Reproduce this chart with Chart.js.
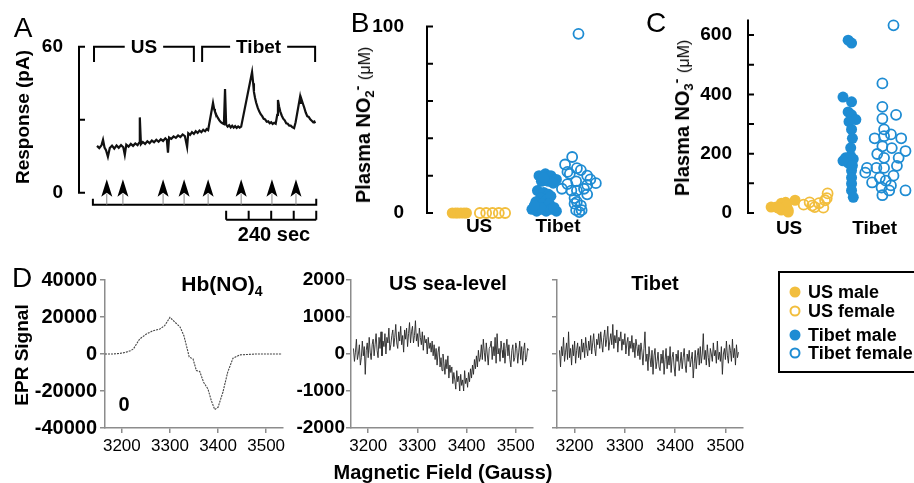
<!DOCTYPE html>
<html lang="en">
<head>
<meta charset="UTF-8">
<title>Plasma NO products, US vs Tibet</title>
<script src="https://cdn.jsdelivr.net/npm/chart.js"></script>
<style>
  body { margin: 0; background: #fff; }
  #fig { position: relative; width: 914px; height: 483px; overflow: hidden; background: #fff; }
  #fig canvas { position: absolute; }
  .c { position: absolute; transform: translate(-50%, -50%); line-height: 1; white-space: nowrap;
       font-family: "Liberation Sans", Arial, Helvetica, sans-serif; font-weight: bold; color: #000; }
  .r { transform: translate(-50%, -50%) rotate(-90deg); }
  .sm { font-weight: normal; font-size: 16px; }
  #legend { position: absolute; left: 778px; top: 271px; width: 170px; height: 98px; border: 2px solid #000; }
  .mk { position: absolute; width: 11px; height: 11px; border-radius: 50%; box-sizing: border-box; transform: translate(-50%, -50%); }
  .lt { position: absolute; transform: translateY(-50%); line-height: 1; white-space: nowrap;
        font-family: "Liberation Sans", Arial, sans-serif; font-weight: bold; font-size: 18px; }
</style>
</head>
<body>
<div id="fig">
  <canvas id="cA" width="330" height="245" style="left:0;top:0"></canvas>
  <canvas id="cB" width="290" height="248" style="left:330px;top:0"></canvas>
  <canvas id="cC" width="294" height="248" style="left:620px;top:0"></canvas>
  <canvas id="cD1" width="293" height="198" style="left:0;top:260px"></canvas>
  <canvas id="cD2" width="253" height="198" style="left:290px;top:260px"></canvas>
  <canvas id="cD3" width="208" height="198" style="left:545px;top:260px"></canvas>

  <div class="c" style="left:23px;top:28px;font-size:28px;font-weight:normal">A</div>
  <div class="c" style="left:360px;top:23px;font-size:28px;font-weight:normal">B</div>
  <div class="c" style="left:656px;top:23px;font-size:28px;font-weight:normal">C</div>
  <div class="c" style="left:22px;top:278px;font-size:28px;font-weight:normal">D</div>

  <div class="c r" style="left:22px;top:117px;font-size:19px">Response (pA)</div>
  <div class="c" style="left:274px;top:234px;font-size:20px">240 sec</div>
  <div class="c r" style="left:363px;top:125px;font-size:20px">Plasma NO<span style="font-size:13px;vertical-align:-4px">2</span><span style="font-size:14px;vertical-align:8px">-</span> <span class="sm">(μM)</span></div>
  <div class="c r" style="left:682px;top:118px;font-size:20px">Plasma NO<span style="font-size:13px;vertical-align:-4px">3</span><span style="font-size:14px;vertical-align:8px">-</span> <span class="sm">(μM)</span></div>

  <div class="c r" style="left:21px;top:355px;font-size:19px">EPR Signal</div>
  <div class="c" style="left:222px;top:285px;font-size:21px">Hb(NO)<span style="font-size:14px;vertical-align:-5px">4</span></div>
  <div class="c" style="left:448px;top:283px;font-size:20px">US sea-level</div>
  <div class="c" style="left:655px;top:283px;font-size:20px">Tibet</div>
  <div class="c" style="left:124px;top:404px;font-size:20px">0</div>
  <div class="c" style="left:443px;top:472px;font-size:20px">Magnetic Field (Gauss)</div>

  <div id="legend">
    <div class="mk" style="left:15px;top:19px;background:#F2BE3D"></div>
    <div class="lt" style="left:28px;top:19px">US male</div>
    <div class="mk" style="left:15px;top:38px;border:2px solid #F2BE3D"></div>
    <div class="lt" style="left:28px;top:38px">US female</div>
    <div class="mk" style="left:15px;top:62px;background:#1E8CD3"></div>
    <div class="lt" style="left:28px;top:62px">Tibet male</div>
    <div class="mk" style="left:15px;top:80px;border:2px solid #1E8CD3"></div>
    <div class="lt" style="left:28px;top:80px">Tibet female</div>
  </div>
</div>

<script>
// ---- data ----
// A: amperometric NO response, time (s) vs current (pA)
const respSec = [11,17,23,27,31,35,40,45,51,57,63,69,75,81,85,89,95,101,107,113,119,123,125,128,133,139,145,151,157,163,169,175,181,187,193,197,200,203,209,215,221,227,233,239,245,251,254,259,264,269,274,279,284,289,294,299,303,307,
  320,323,325,329,333,337,341,345,349,352,355,359,363,367,371,375,379,383,387,391,395,
  424,427,429,432,435,439,443,447,451,455,459,463,467,471,475,479,483,487,491,493,496,499,503,507,511,515,519,523,527,531,536,540,544,548,552,555,557,560,563,567,571,575,579,583,587,590,592];
const respPA = [19.3,18.4,19.6,21.8,18.6,17.5,14.8,18.4,19.4,18.2,19.5,18.5,19.6,18.7,15.6,19.8,19.0,20.1,19.3,20.3,19.6,20.5,31.0,20.0,20.9,20.1,21.2,20.4,21.5,20.8,21.8,21.0,22.0,21.3,22.4,21.8,16.5,22.8,22.2,23.2,22.6,23.6,22.9,24.0,23.3,18.8,24.5,23.8,24.9,24.2,25.3,24.6,25.6,24.9,25.9,25.3,26.2,25.8,
  37.0,34.5,33.5,32.0,30.8,29.8,29.0,28.6,28.3,42.7,28.0,27.2,27.8,26.9,27.6,26.8,27.4,26.7,27.3,26.8,27.2,
  49.7,45.0,41.5,39.0,37.0,35.0,33.5,32.3,31.5,30.4,30.2,29.2,29.4,28.6,29.0,28.3,28.8,28.4,32.0,38.2,35.5,33.5,31.8,30.5,29.8,28.6,28.4,27.6,27.6,27.0,26.6,29.0,32.5,36.0,39.5,37.0,37.8,36.4,35.0,33.0,31.5,31.2,30.2,29.6,29.0,29.3,28.6];
const respTicks = [0, 30, 60];
const injectionSec = [37, 80, 187, 243, 307, 395, 477, 541];
const bracketLabels = ['US', 'Tibet'];
const bracketStartSec = [3, 291];
const bracketEndSec = [269, 592];
const recordSec = [0, 595];
const scaleBarSec = [355, 415, 475, 535, 595];

// B: plasma nitrite (uM)
const groupNames = ['US', 'Tibet'];
const no2Ticks = [0,10,20,30,40,50,60,70,80,90,100];
const no2USMale = [0,0,0,0,0,0];
const no2USMaleJit = [-0.34,-0.30,-0.27,-0.23,-0.19,-0.16];
const no2USFemale = [0,0,0,0,0];
const no2USFemaleJit = [0.01,0.09,0.17,0.25,0.33];
const no2TibetMale = [20,21,20,18,17,17,16,19,12,11,10,8,7,9,6,5,5,2,1,2,1,2,1,3,4,3];
const no2TibetMaleJit = [-0.24,-0.16,-0.09,-0.02,-0.21,-0.12,-0.06,-0.18,-0.26,-0.18,-0.12,-0.22,-0.15,-0.09,-0.28,-0.20,-0.11,-0.33,-0.27,-0.21,-0.15,-0.09,-0.02,-0.22,-0.30,-0.05];
const no2TibetFemale = [96,30,26,24,22,23,20,21,18,16,17,15.5,13,15,12,12,10,8,6,4,5,1.5,0.5,1.5,13];
const no2TibetFemaleJit = [0.26,0.18,0.09,0.24,0.12,0.29,0.37,0.15,0.41,0.48,0.23,0.12,0.05,0.37,0.24,0.17,0.37,0.21,0.24,0.29,0.21,0.23,0.27,0.30,0.33];

// C: plasma nitrate (uM)
const no3Ticks = [0,50,100,150,200,250,300,350,400,450,500,550,600,650];
const no3USMale = [20,33,36,43,10,10,26,20,3,16];
const no3USMaleJit = [-0.21,-0.09,-0.04,0.07,-0.01,-0.09,-0.03,-0.15,-0.01,-0.12];
const no3USFemale = [28,36,20,33,18,43,66,25,50];
const no3USFemaleJit = [0.17,0.24,0.30,0.35,0.40,0.42,0.45,0.27,0.44];
const no3TibetMale = [583,573,391,375,341,331,315,308,282,252,186,192,182,169,176,143,119,99,76,53,220,160];
const no3TibetMaleJit = [-0.31,-0.27,-0.37,-0.27,-0.31,-0.27,-0.22,-0.30,-0.27,-0.26,-0.34,-0.28,-0.25,-0.31,-0.37,-0.27,-0.27,-0.27,-0.27,-0.25,-0.28,-0.26];
const no3TibetFemale = [633,437,358,318,331,282,252,259,265,252,225,219,199,186,186,209,152,136,152,152,159,103,119,109,93,86,60,76,76,126];
const no3TibetFemaleJit = [0.22,0.09,0.09,0.09,0.25,0.11,0,0.11,0.19,0.31,0.09,0.20,0.03,0.11,0.28,0.36,-0.09,-0.11,0.02,0.11,0.26,-0.03,0.06,0.13,0.19,0.08,0.09,0.17,0.36,0.22];

// D: EPR spectra, magnetic field (Gauss) vs signal
const fieldTicks = [3200, 3300, 3400, 3500];
const hbField = [3165,3180,3195,3207,3218,3224,3237,3251,3265,3279,3289,3300,3310,3321,3329,3336,3340,3348,3355,3362,3370,3379,3386,3393,3400,3410,3420,3431,3445,3479,3533];
const hbSignal = [0,0,300,800,1800,2700,8100,10800,12600,13500,15300,19800,17300,14600,9900,2700,-1600,-2700,-9000,-9500,-15300,-18900,-25200,-30000,-28800,-20700,-9900,-2300,-500,0,0];
const hbTicks = [-40000,-20000,0,20000,40000];
const eprTicks = [-2000,-1000,0,1000,2000];
const eprField = [
  3170,3172,3174,3176,3178,3180,3182,3184,3186,3188,3190,3192,3194,3196,3198,3200,3202,3204,3206,3208,
  3210,3212,3214,3216,3218,3220,3222,3224,3226,3228,3230,3232,3234,3236,3238,3240,3242,3244,3246,3248,
  3250,3252,3254,3256,3258,3260,3262,3264,3266,3268,3270,3272,3274,3276,3278,3280,3282,3284,3286,3288,
  3290,3292,3294,3296,3298,3300,3302,3304,3306,3308,3310,3312,3314,3316,3318,3320,3322,3324,3326,3328,
  3330,3332,3334,3336,3338,3340,3342,3344,3346,3348,3350,3352,3354,3356,3358,3360,3362,3364,3366,3368,
  3370,3372,3374,3376,3378,3380,3382,3384,3386,3388,3390,3392,3394,3396,3398,3400,3402,3404,3406,3408,
  3410,3412,3414,3416,3418,3420,3422,3424,3426,3428,3430,3432,3434,3436,3438,3440,3442,3444,3446,3448,
  3450,3452,3454,3456,3458,3460,3462,3464,3466,3468,3470,3472,3474,3476,3478,3480,3482,3484,3486,3488,
  3490,3492,3494,3496,3498,3500,3502,3504,3506,3508,3510,3512,3514,3516,3518,3520,3522,3524,3526];
const usSeaLevel = [
  150,-200,50,400,-150,0,250,-300,-100,350,-50,200,-550,100,300,-100,450,50,-150,250,
  400,-50,250,550,100,-100,450,150,600,-50,350,200,550,0,450,300,700,100,250,500,
  650,200,450,800,300,150,600,350,750,250,500,50,650,400,700,200,550,850,300,600,
  750,300,500,900,350,550,200,700,450,250,600,100,500,300,400,0,450,150,300,50,
  350,-50,250,-150,150,-300,50,200,-350,-100,-450,0,-250,-550,-150,-400,-50,-650,-300,-500,
  -350,-800,-500,-700,-950,-450,-750,-600,-1000,-550,-850,-700,-1000,-450,-800,-650,-900,-500,-750,-400,
  -650,-300,-550,-150,-400,-50,-350,100,-200,-100,250,-150,400,50,-200,300,0,-300,150,200,
  350,-150,200,-50,450,-250,550,0,150,-200,350,100,-100,300,-250,150,400,-50,250,-150,
  -350,100,250,-200,-100,300,150,-250,50,350,-150,200,-300,100,300,-200,-100,150,100];
const tibetEpr = [
  100,-350,200,-50,450,-200,50,300,-150,600,-100,150,-300,250,-50,350,-250,100,300,-100,
  200,-150,400,50,300,-100,450,150,-50,350,100,500,0,300,550,150,-50,400,250,550,
  150,600,300,50,450,650,200,400,750,100,350,550,250,800,150,500,300,650,50,450,
  350,600,100,400,250,550,0,300,450,-50,350,150,500,50,300,-100,400,200,-50,250,
  -150,300,50,-300,150,600,-200,0,-450,200,-100,-350,100,-550,-50,150,-400,-200,50,-350,
  -450,0,-250,100,-550,-150,150,-400,-50,-300,200,-500,-100,50,-350,-600,0,-200,100,-450,
  -250,50,-400,-100,150,-300,-500,0,-200,100,-350,-150,50,-650,-250,100,-400,-50,150,-300,
  200,-250,0,550,-150,100,-300,250,-100,-350,150,0,-200,300,-50,100,-250,350,-150,50,
  -200,200,-550,0,150,-150,350,-50,-250,250,100,-200,400,-100,150,-300,250,-100,50];

// ---- styling ----
const FONT = '"Liberation Sans", Arial, Helvetica, sans-serif';
const YELLOW = '#F2BE3D';
const BLUE = '#1E8CD3';
const AXIS_GREY = '#8c8c8c';
Chart.defaults.font.family = FONT;
Chart.defaults.color = '#000';

// black y axis with ticks pointing into the plot (panels A-C)
const inAxis = {
  id: 'inAxis',
  afterDraw(chart, args, o) {
    const y = chart.scales.y, x0 = chart.chartArea.left, ctx = chart.ctx;
    ctx.save();
    ctx.strokeStyle = '#000';
    ctx.lineWidth = 2;
    ctx.beginPath();
    ctx.moveTo(x0, y.getPixelForValue(o.from));
    ctx.lineTo(x0, y.getPixelForValue(o.to));
    y.ticks.forEach(t => {
      const p = y.getPixelForValue(t.value);
      ctx.moveTo(x0 - 1, p);
      ctx.lineTo(x0 + o.len, p);
    });
    ctx.stroke();
    ctx.restore();
  }
};

// brackets, injection arrows, recording line and time bar of panel A
const panelAExtras = {
  id: 'panelAExtras',
  afterDatasetsDraw(chart) {
    const { ctx, scales: { x, y } } = chart;
    ctx.save();
    ctx.strokeStyle = '#000';
    ctx.fillStyle = '#000';
    ctx.lineWidth = 2;
    ctx.font = 'bold 19px ' + FONT;
    ctx.textAlign = 'center';
    ctx.textBaseline = 'middle';
    const yTop = y.getPixelForValue(60), yDrop = y.getPixelForValue(53.8);
    bracketLabels.forEach((lab, i) => {
      const x0 = x.getPixelForValue(bracketStartSec[i]), x1 = x.getPixelForValue(bracketEndSec[i]);
      const mid = (x0 + x1) / 2, half = ctx.measureText(lab).width / 2 + 6;
      ctx.beginPath();
      ctx.moveTo(x0, yDrop); ctx.lineTo(x0, yTop); ctx.lineTo(mid - half, yTop);
      ctx.moveTo(mid + half, yTop); ctx.lineTo(x1, yTop); ctx.lineTo(x1, yDrop);
      ctx.stroke();
      ctx.fillText(lab, mid, yTop + 1);
    });

    // recording line
    const yRec = y.getPixelForValue(-4.9), yRecTick = y.getPixelForValue(-2.4);
    const r0 = x.getPixelForValue(recordSec[0]), r1 = x.getPixelForValue(recordSec[1]);
    ctx.beginPath();
    ctx.moveTo(r0, yRecTick); ctx.lineTo(r0, yRec); ctx.lineTo(r1, yRec); ctx.lineTo(r1, yRecTick);
    ctx.stroke();

    // time bar
    const yBar = y.getPixelForValue(-11.1), yBarTick = y.getPixelForValue(-7.4);
    ctx.beginPath();
    ctx.moveTo(x.getPixelForValue(scaleBarSec[0]), yBar);
    ctx.lineTo(x.getPixelForValue(scaleBarSec[scaleBarSec.length - 1]), yBar);
    scaleBarSec.forEach(s => {
      const p = x.getPixelForValue(s);
      ctx.moveTo(p, yBar); ctx.lineTo(p, yBarTick);
    });
    ctx.stroke();

    // injection arrows
    const yTip = y.getPixelForValue(5.6), yBase = y.getPixelForValue(-1.6);
    injectionSec.forEach(s => {
      const p = x.getPixelForValue(s);
      ctx.strokeStyle = '#8a8a8a';
      ctx.lineWidth = 1;
      ctx.beginPath();
      ctx.moveTo(p, yBase - 3); ctx.lineTo(p, yRec);
      ctx.stroke();
      ctx.beginPath();
      ctx.moveTo(p, yTip);
      ctx.lineTo(p + 5.5, yBase);
      ctx.lineTo(p, yBase - 4);
      ctx.lineTo(p - 5.5, yBase);
      ctx.closePath();
      ctx.fill();
    });
    ctx.restore();
  }
};

const base = { responsive: false, animation: false, devicePixelRatio: 1 };
const noPlugins = { legend: { display: false }, tooltip: { enabled: false } };

// ---- A ----
new Chart(document.getElementById('cA'), {
  type: 'line',
  data: {
    datasets: [{
      data: respSec.map((t, i) => ({ x: t, y: respPA[i] })),
      borderColor: '#111', borderWidth: 2.2, pointRadius: 0, tension: 0
    }]
  },
  options: {
    ...base,
    layout: { padding: { top: 42, right: 10, bottom: 23, left: 0 } },
    scales: {
      x: { type: 'linear', min: -37, max: 605, display: false },
      y: {
        min: -12, max: 62,
        afterFit: s => { s.width = 79; },
        afterBuildTicks: s => { s.ticks = respTicks.map(v => ({ value: v })); },
        ticks: { callback: v => (v === 30 ? '' : String(v)), font: { size: 19, weight: 'bold' }, padding: 8 },
        grid: { display: false }, border: { display: false }
      }
    },
    plugins: { ...noPlugins, inAxis: { from: 0, to: 60, len: 6 } }
  },
  plugins: [inAxis, panelAExtras]
});

// ---- B and C ----
function group(values, jitter, center, color, filled) {
  return {
    data: values.map((v, i) => ({ x: center + jitter[i], y: v })),
    pointRadius: filled ? 5.5 : 5,
    pointBorderWidth: filled ? 0 : 1.8,
    pointBackgroundColor: filled ? color : 'rgba(255,255,255,0)',
    pointBorderColor: color,
    clip: false
  };
}

function scatterPanel(id, sets, xMin, xMax, yMax, ticks, labelEvery, yWidth, yPad, xPad, top) {
  return new Chart(document.getElementById(id), {
    type: 'scatter',
    data: { datasets: sets },
    options: {
      ...base,
      layout: { padding: { top: top, right: 0, bottom: 0, left: 0 } },
      scales: {
        x: {
          type: 'linear', min: xMin, max: xMax,
          afterFit: s => { s.height = 35; },
          afterBuildTicks: s => { s.ticks = [1, 2].map(v => ({ value: v })); },
          ticks: { callback: v => groupNames[v - 1], font: { size: 19, weight: 'bold' }, padding: xPad },
          grid: { display: false }, border: { display: false }
        },
        y: {
          min: 0, max: yMax,
          afterFit: s => { s.width = yWidth; },
          afterBuildTicks: s => { s.ticks = ticks.map(v => ({ value: v })); },
          ticks: { callback: v => (v % labelEvery === 0 ? String(v) : ''), font: { size: 19, weight: 'bold' }, padding: yPad },
          grid: { display: false }, border: { display: false }
        }
      },
      plugins: { ...noPlugins, inAxis: { from: 0, to: yMax, len: 6 } }
    },
    plugins: [inAxis]
  });
}

scatterPanel('cB', [
  group(no2USMale, no2USMaleJit, 1, YELLOW, true),
  group(no2USFemale, no2USFemaleJit, 1, YELLOW, false),
  group(no2TibetMale, no2TibetMaleJit, 2, BLUE, true),
  group(no2TibetFemale, no2TibetFemaleJit, 2, BLUE, false)
], 0.34, 2.7, 100, no2Ticks, 50, 97, 15, -6, 20);

scatterPanel('cC', [
  group(no3USMale, no3USMaleJit, 1, YELLOW, true),
  group(no3USFemale, no3USFemaleJit, 1, YELLOW, false),
  group(no3TibetMale, no3TibetMaleJit, 2, BLUE, true),
  group(no3TibetFemale, no3TibetFemaleJit, 2, BLUE, false)
], 0.52, 2.38, 653, no3Ticks, 200, 128, 8, -4, 16);

// ---- D ----
function eprChart(id, field, signal, yTicks, yWidth, labelSize, labelPad, smooth) {
  return new Chart(document.getElementById(id), {
    type: 'line',
    data: {
      datasets: [{
        data: field.map((g, i) => ({ x: g, y: signal[i] })),
        borderColor: smooth ? '#444' : '#262626',
        borderWidth: smooth ? 1.1 : 0.9,
        borderDash: smooth ? [2, 1] : [],
        pointRadius: 0, tension: 0
      }]
    },
    options: {
      ...base,
      layout: { padding: { top: 20, right: 10, bottom: 0, left: 0 } },
      scales: {
        x: {
          type: 'linear', min: 3165, max: 3535,
          afterFit: s => { s.height = 30; },
          afterBuildTicks: s => { s.ticks = fieldTicks.map(v => ({ value: v })); },
          ticks: { callback: v => String(v), font: { size: 17 }, padding: 3 },
          grid: { drawOnChartArea: false, tickLength: 5, color: AXIS_GREY, lineWidth: 1.5 },
          border: { color: AXIS_GREY, width: 1.5 }
        },
        y: {
          min: yTicks[0], max: yTicks[yTicks.length - 1],
          afterFit: s => { s.width = yWidth; },
          afterBuildTicks: s => { s.ticks = yTicks.map(v => ({ value: v })); },
          ticks: { display: labelSize > 0, callback: v => String(v), font: { size: labelSize || 12, weight: 'bold' }, padding: labelPad },
          grid: { drawOnChartArea: false, tickLength: 5, color: AXIS_GREY, lineWidth: 1.5 },
          border: { color: AXIS_GREY, width: 1.5 }
        }
      },
      plugins: noPlugins
    }
  });
}

eprChart('cD1', hbField, hbSignal, hbTicks, 105, 20, 3, true);
eprChart('cD2', eprField, usSeaLevel, eprTicks, 61, 19, 1, false);
eprChart('cD3', eprField, tibetEpr, eprTicks, 12, 0, 1, false);
</script>
</body>
</html>
